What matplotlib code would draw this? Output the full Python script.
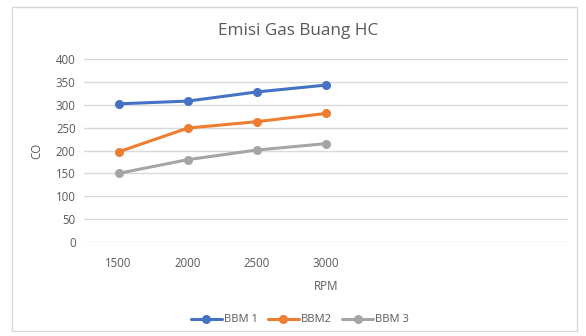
import matplotlib
matplotlib.use("Agg")
import matplotlib.pyplot as plt
from matplotlib.patches import Rectangle

# categories (Excel chart has 7 category slots, last 3 empty)
rpm_labels = ["1500", "2000", "2500", "3000", "", "", ""]
bbm1 = [302, 308, 328, 343]
bbm2 = [197, 249, 263, 281]
bbm3 = [150, 180, 201, 215]
series_names = ["BBM 1", "BBM2", "BBM 3"]
series_colours = ["#4472C4", "#ED7D31", "#A5A5A5"]
y_ticks = [0, 50, 100, 150, 200, 250, 300, 350, 400]

W, H = 586, 336
plt.rcParams["font.family"] = ["Open Sans", "DejaVu Sans"]
fig = plt.figure(figsize=(W / 100, H / 100), dpi=100)

# chart-area border
fig.patches.append(Rectangle((12 / W, 1 - 331 / H), 565 / W, 324 / H,
                             transform=fig.transFigure, fill=False,
                             edgecolor="#D9D9D9", linewidth=1.0))

ax = fig.add_axes([84 / W, 1 - 242 / H, 484 / W, 183 / H])
xs = list(range(len(bbm1)))
for vals, name, col in zip([bbm1, bbm2, bbm3], series_names, series_colours):
    ax.plot(xs, vals, color=col, linewidth=2.2, marker="o", markersize=5.5,
            label=name, solid_capstyle="round", zorder=3)

ax.set_xlim(-0.5, len(rpm_labels) - 0.5)
ax.set_ylim(0, 400)
ax.set_xticks(range(len(rpm_labels)))
ax.set_xticklabels(rpm_labels)
ax.set_yticks(y_ticks)
ax.tick_params(axis="both", length=0, labelsize=8.3, colors="#595959", pad=6)
ax.tick_params(axis="x", pad=11)
ax.grid(axis="y", color="#D9D9D9", linewidth=1.0)
ax.set_axisbelow(True)
for s in ax.spines.values():
    s.set_visible(False)

ax.set_xlabel("RPM", fontsize=8.3, color="#595959", labelpad=7)
ax.set_ylabel("CO", fontsize=8.3, color="#595959", labelpad=9)

fig.text(298 / W, 1 - 31 / H, "Emisi Gas Buang HC", ha="center", va="center",
         fontsize=12.3, color="#595959")

fig.legend(loc="center", bbox_to_anchor=(300 / W, 1 - 320 / H), ncol=3,
           frameon=False, fontsize=8, labelcolor="#595959",
           handlelength=2.8, handletextpad=0.2, columnspacing=0.9)

fig.savefig("out.png", dpi=100)
